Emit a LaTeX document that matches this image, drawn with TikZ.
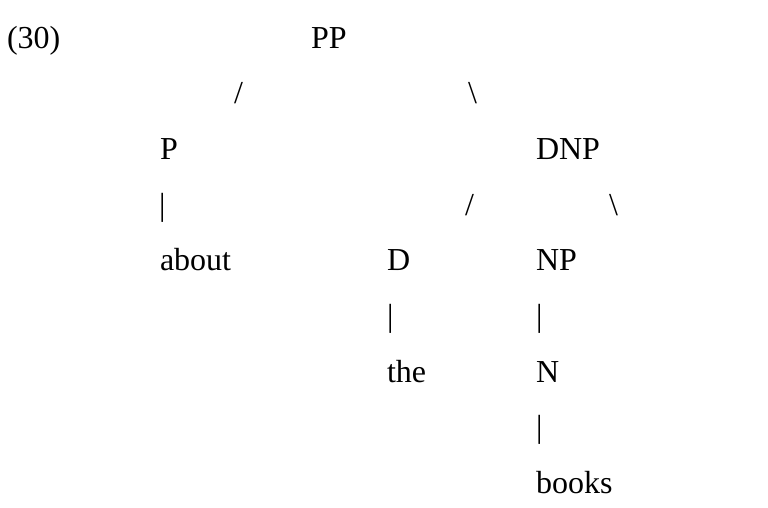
\documentclass[tikz,border=0pt]{standalone}
\usepackage{fontspec}
\setmainfont{Liberation Serif}
\begin{document}
\begin{tikzpicture}[x=1pt,y=-1pt,
  lbl/.style={anchor=base west,inner sep=0pt,outer sep=0pt,font=\fontsize{32}{37}\selectfont}]
\useasboundingbox (0,0) rectangle (768,507);
\def\rA{48}\def\rB{103.7}\def\rC{159.4}\def\rD{215.1}\def\rE{270.8}\def\rF{326.5}\def\rG{382.2}\def\rH{437.9}\def\rI{493.6}
\node[lbl] (ex) at (7,\rA) {(30)};
\node[lbl] (pp) at (311,\rA) {PP};
\node[lbl] (s1) at (234,\rB) {/};
\node[lbl] (b1) at (468,\rB) {\textbackslash};
\node[lbl] (p) at (160,\rC) {P};
\node[lbl] (dnp) at (536,\rC) {DNP};
\node[lbl] (v1) at (159,\rD) {|};
\node[lbl] (s2) at (465,\rD) {/};
\node[lbl] (b2) at (609,\rD) {\textbackslash};
\node[lbl] (about) at (160,\rE) {about};
\node[lbl] (d) at (387,\rE) {D};
\node[lbl] (np) at (536,\rE) {NP};
\node[lbl] (v2) at (387,\rF) {|};
\node[lbl] (v3) at (536,\rF) {|};
\node[lbl] (the) at (387,\rG) {the};
\node[lbl] (n) at (536,\rG) {N};
\node[lbl] (v4) at (536,\rH) {|};
\node[lbl] (books) at (536,\rI) {books};
\end{tikzpicture}
\end{document}
